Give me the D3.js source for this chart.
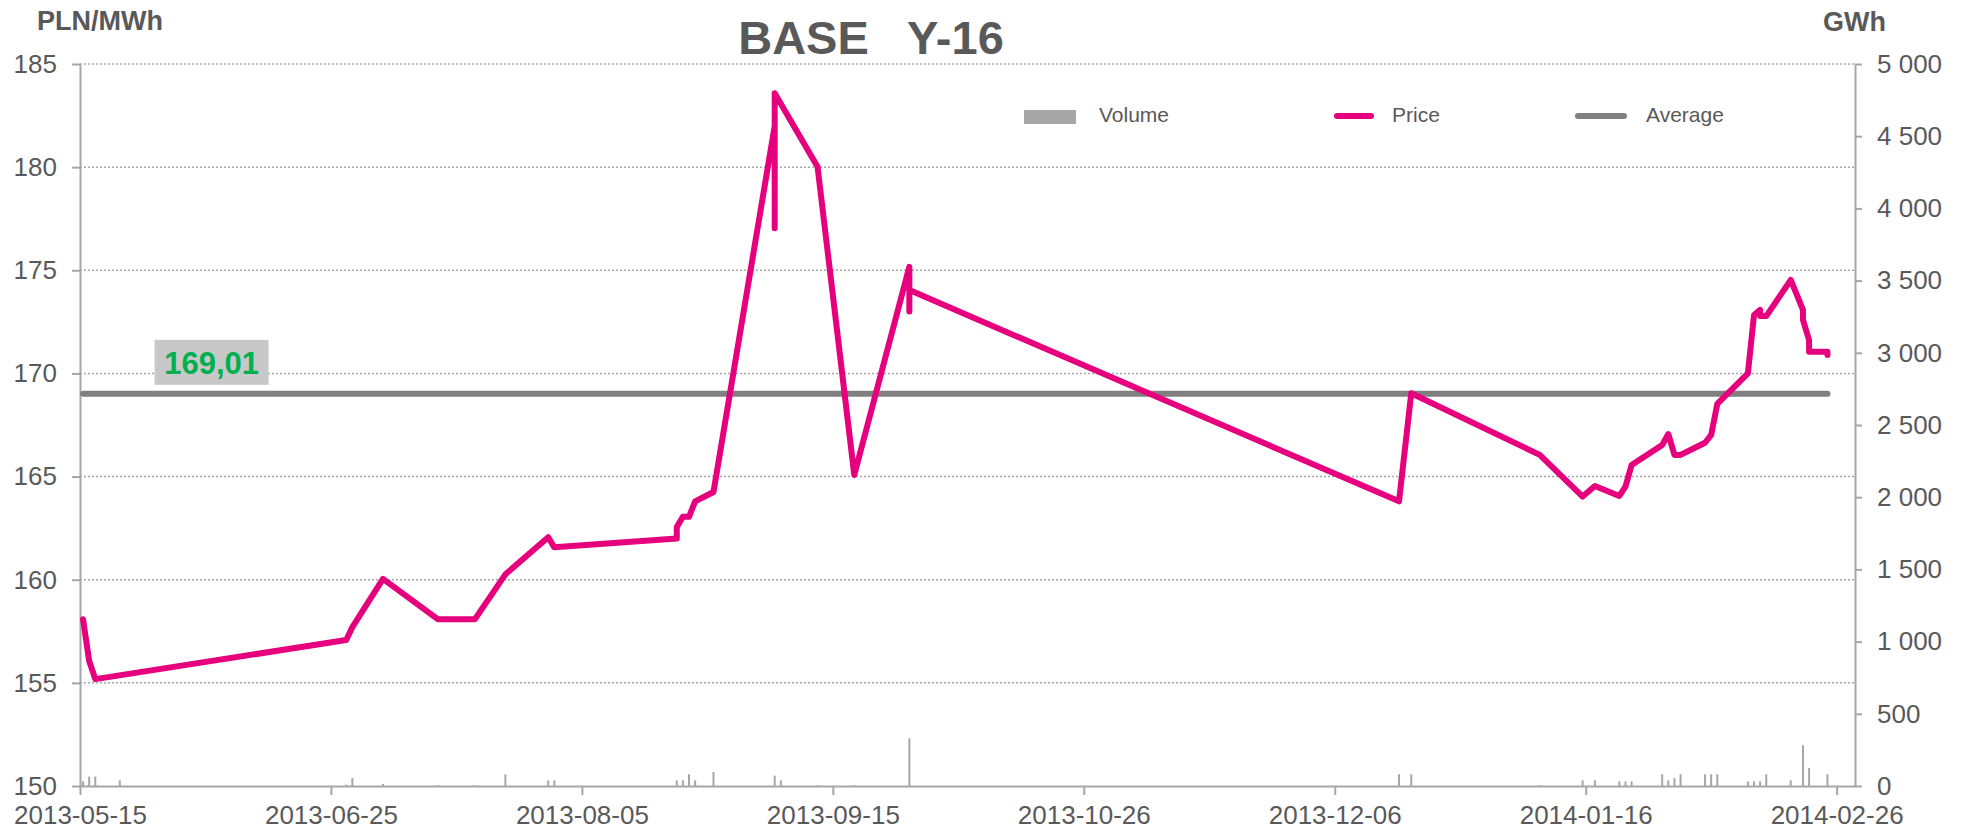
<!DOCTYPE html>
<html>
<head>
<meta charset="utf-8">
<script src="https://cdn.jsdelivr.net/npm/d3@7"></script>
<style>
  body { margin: 0; background: #fff; }
  text { font-family: "Liberation Sans", Arial, sans-serif; }
</style>
</head>
<body>
<svg id="chart" width="1966" height="829"></svg>
<script>
// ---- data ----
const titleText = "BASE   Y-16";
const leftUnit = "PLN/MWh";
const rightUnit = "GWh";
const seriesNames = ["Volume", "Price", "Average"];

const priceDates = [
  "2013-05-15","2013-05-16","2013-05-17","2013-06-27","2013-06-28","2013-07-03",
  "2013-07-12","2013-07-18","2013-07-23","2013-07-30","2013-07-31",
  "2013-08-20","2013-08-20","2013-08-21","2013-08-22","2013-08-23","2013-08-26",
  "2013-09-05","2013-09-05","2013-09-05","2013-09-12","2013-09-18",
  "2013-09-27","2013-09-27","2013-09-27",
  "2013-12-16","2013-12-18","2014-01-08","2014-01-15","2014-01-17",
  "2014-01-21","2014-01-22","2014-01-23","2014-01-28","2014-01-29","2014-01-30","2014-01-31",
  "2014-02-04","2014-02-05","2014-02-06","2014-02-11","2014-02-12","2014-02-13","2014-02-13",
  "2014-02-14","2014-02-18","2014-02-20","2014-02-20","2014-02-21","2014-02-21",
  "2014-02-24","2014-02-24"
];
const priceValues = [
  158.08,156.06,155.18,157.08,157.70,160.04,
  158.08,158.08,160.26,162.06,161.57,
  162.00,162.55,163.05,163.05,163.80,164.25,
  182.00,177.04,183.58,180.02,165.08,
  175.17,173.00,174.04,
  163.80,169.04,166.05,164.03,164.54,
  164.06,164.51,165.56,166.53,167.06,166.05,166.05,
  166.64,167.02,168.52,170.00,172.83,173.08,172.78,
  172.78,174.53,173.08,172.60,171.62,171.05,
  171.05,170.89
];

const volumeDates = [
  "2013-05-15","2013-05-16","2013-05-17","2013-05-21","2013-06-27","2013-06-28",
  "2013-07-03","2013-07-12","2013-07-18","2013-07-23","2013-07-30","2013-07-31",
  "2013-08-20","2013-08-21","2013-08-22","2013-08-23","2013-08-26",
  "2013-09-05","2013-09-06","2013-09-12","2013-09-18","2013-09-27",
  "2013-12-16","2013-12-18","2014-01-08","2014-01-15","2014-01-17",
  "2014-01-21","2014-01-22","2014-01-23","2014-01-28","2014-01-29","2014-01-30","2014-01-31",
  "2014-02-04","2014-02-05","2014-02-06","2014-02-11","2014-02-12","2014-02-13","2014-02-14",
  "2014-02-18","2014-02-20","2014-02-21","2014-02-24"
];
const volumeValues = [
  32,65,65,39,9,55,
  14,5,5,81,39,39,
  39,39,81,39,97,
  72,39,5,5,330,
  81,81,5,39,39,
  32,32,32,81,39,55,81,
  81,81,81,32,32,32,81,
  39,282,125,81
];

const averagePrice = 169.01;
const averageLabelDate = "2013-06-05";

const xTickLabels = ["2013-05-15","2013-06-25","2013-08-05","2013-09-15",
                     "2013-10-26","2013-12-06","2014-01-16","2014-02-26"];
const priceTicks = [150,155,160,165,170,175,180,185];
const volumeTicks = [0,500,1000,1500,2000,2500,3000,3500,4000,4500,5000];

// ---- layout ----
const W = 1966, H = 829;
const plot = { left: 80, right: 1855, top: 64, bottom: 786 };
const textColor = "#595959";
const axisColor = "#a6a6a6";
const priceColor = "#e6007e";
const avgColor = "#808080";
const volColor = "#a6a6a6";

const parse = d3.utcParse("%Y-%m-%d");
const mid = s => d3.utcHour.offset(parse(s), 12);   // marks sit mid-day

const x = d3.scaleUtc()
  .domain([parse("2013-05-15"), parse("2014-03-01")])
  .range([plot.left, plot.right]);
const yP = d3.scaleLinear().domain([150, 185]).range([plot.bottom, plot.top]);
const yV = d3.scaleLinear().domain([0, 5000]).range([plot.bottom, plot.top]);

const svg = d3.select("#chart");
svg.append("rect").attr("width", W).attr("height", H).attr("fill", "#fff");

// dotted horizontal gridlines
svg.append("g").selectAll("line")
  .data(priceTicks.filter(t => t > 150))
  .join("line")
  .attr("x1", plot.left).attr("x2", plot.right)
  .attr("y1", d => yP(d)).attr("y2", d => yP(d))
  .attr("stroke", "#a6a6a6").attr("stroke-width", 1.5)
  .attr("stroke-dasharray", "2,2");

// volume bars
svg.append("g").selectAll("rect")
  .data(volumeDates.map((d, i) => ({ d, v: volumeValues[i] })))
  .join("rect")
  .attr("x", p => x(mid(p.d)) - 1)
  .attr("width", 2)
  .attr("y", p => yV(p.v))
  .attr("height", p => plot.bottom - yV(p.v))
  .attr("fill", volColor);

// axes
const volFmt = d3.formatLocale({ decimal: ",", thousands: " ", grouping: [3], currency: ["", ""] }).format(",");

function styleAxis(g) {
  g.select(".domain").attr("stroke", axisColor).attr("stroke-width", 2);
  g.selectAll(".tick line").attr("stroke", axisColor).attr("stroke-width", 2);
  g.selectAll(".tick text")
    .attr("fill", textColor)
    .style("font-size", "26px")
    .style("font-family", '"Liberation Sans", Arial, sans-serif');
}

svg.append("g")
  .attr("transform", `translate(${plot.left},0)`)
  .call(d3.axisLeft(yP).tickValues(priceTicks).tickSize(8).tickSizeOuter(0).tickPadding(15))
  .call(styleAxis);

svg.append("g")
  .attr("transform", `translate(${plot.right},0)`)
  .call(d3.axisRight(yV).tickValues(volumeTicks).tickSize(7).tickSizeOuter(0).tickPadding(15).tickFormat(volFmt))
  .call(styleAxis);

svg.append("g")
  .attr("transform", `translate(0,${plot.bottom})`)
  .call(d3.axisBottom(x).tickValues(xTickLabels.map(parse)).tickSize(9).tickSizeOuter(0)
        .tickPadding(11).tickFormat(d3.utcFormat("%Y-%m-%d")))
  .call(styleAxis);

// average line
const firstDate = mid(priceDates[0]);
const lastDate = mid(priceDates[priceDates.length - 1]);
svg.append("line")
  .attr("x1", x(firstDate)).attr("x2", x(lastDate))
  .attr("y1", yP(averagePrice)).attr("y2", yP(averagePrice))
  .attr("stroke", avgColor).attr("stroke-width", 6).attr("stroke-linecap", "round");

// price line
const line = d3.line()
  .x((d, i) => x(mid(priceDates[i])))
  .y(d => yP(d));
svg.append("path")
  .datum(priceValues)
  .attr("d", line)
  .attr("fill", "none")
  .attr("stroke", priceColor)
  .attr("stroke-width", 6)
  .attr("stroke-linejoin", "round")
  .attr("stroke-linecap", "round");

// average value label
const labelText = d3.format(".2f")(averagePrice).replace(".", ",");
const lx = x(mid(averageLabelDate));
const ly = yP(averagePrice) - 31;
svg.append("rect")
  .attr("x", lx - 57).attr("y", ly - 23).attr("width", 114).attr("height", 45)
  .attr("fill", "#c8c8c8");
svg.append("text")
  .attr("x", lx).attr("y", ly).attr("dy", "0.36em")
  .attr("text-anchor", "middle")
  .attr("fill", "#00b050")
  .style("font-size", "31px").style("font-weight", "bold")
  .text(labelText);

// titles
svg.append("text")
  .attr("x", 871).attr("y", 54)
  .attr("text-anchor", "middle")
  .attr("fill", textColor)
  .style("font-size", "47px").style("font-weight", "bold")
  .style("white-space", "pre")
  .text(titleText);
svg.append("text")
  .attr("x", 37).attr("y", 30)
  .attr("fill", textColor)
  .style("font-size", "27px").style("font-weight", "bold")
  .text(leftUnit);
svg.append("text")
  .attr("x", 1823).attr("y", 31)
  .attr("fill", textColor)
  .style("font-size", "27px").style("font-weight", "bold")
  .text(rightUnit);

// legend
const legend = svg.append("g");
legend.append("rect").attr("x", 1024).attr("y", 110).attr("width", 52).attr("height", 14).attr("fill", volColor);
legend.append("line").attr("x1", 1337).attr("x2", 1371).attr("y1", 116).attr("y2", 116)
  .attr("stroke", priceColor).attr("stroke-width", 6).attr("stroke-linecap", "round");
legend.append("line").attr("x1", 1578).attr("x2", 1624).attr("y1", 116).attr("y2", 116)
  .attr("stroke", avgColor).attr("stroke-width", 6).attr("stroke-linecap", "round");
const legendX = [1099, 1392, 1646];
legend.selectAll("text.lg")
  .data(seriesNames)
  .join("text")
  .attr("class", "lg")
  .attr("x", (d, i) => legendX[i]).attr("y", 122)
  .attr("fill", textColor)
  .style("font-size", "21px")
  .text(d => d);
</script>
</body>
</html>
